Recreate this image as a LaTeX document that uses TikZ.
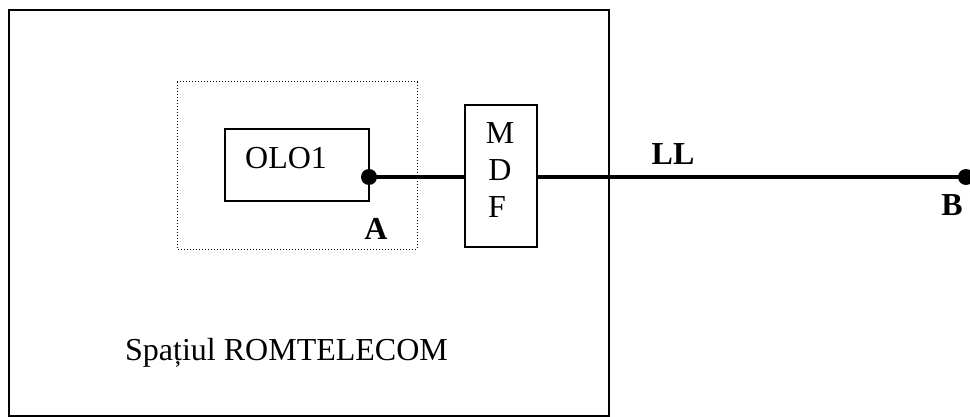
\documentclass[tikz,border=0pt]{standalone}
\usepackage{fontspec}
\setmainfont{Liberation Serif}
\begin{document}
\begin{tikzpicture}[x=1pt,y=-1pt,
  box/.style={draw=black,line width=2pt},
  dotbox/.style={draw=black,line width=1pt,dash pattern=on 1.2pt off 1.8pt},
  wire/.style={line width=3.3pt},
  dot/.style={circle,fill=black,inner sep=0pt,minimum size=16pt},
  lbl/.style={inner sep=0pt,font=\fontsize{32}{37}\selectfont},
  blbl/.style={inner sep=0pt,font=\fontsize{32}{37}\selectfont\bfseries}]
\useasboundingbox (0,0) rectangle (970,417);
\draw[box] (9,10) rectangle (609,416);
\draw[dotbox] (177,82) rectangle (417,249);
\node[box,minimum width=144pt,minimum height=72pt,inner sep=0pt] (olo) at (297,165) {};
\node[lbl,anchor=base west] (olot) at (245,169) {OLO1};
\node[box,minimum width=72pt,minimum height=142pt,inner sep=0pt] (mdf) at (501,176) {};
\node[lbl,anchor=base] (m) at (500,144) {M};
\node[lbl,anchor=base] (d) at (500,181) {D};
\node[lbl,anchor=base] (f) at (497,218) {F};
\node[dot] (a) at (369,177) {};
\node[dot] (b) at (966,177) {};
\draw[wire] (a.center) -- (a.center -| mdf.west);
\draw[wire] (a.center -| mdf.east) -- (b.center);
\node[blbl,anchor=base] (al) at (376,240) {A};
\node[blbl,anchor=base] (ll) at (673,165) {LL};
\node[blbl,anchor=base] (bl) at (952,215) {B};
\node[lbl,anchor=base west] (sp) at (125,360) {Spa\char"021B iul ROMTELECOM};
\end{tikzpicture}
\end{document}
